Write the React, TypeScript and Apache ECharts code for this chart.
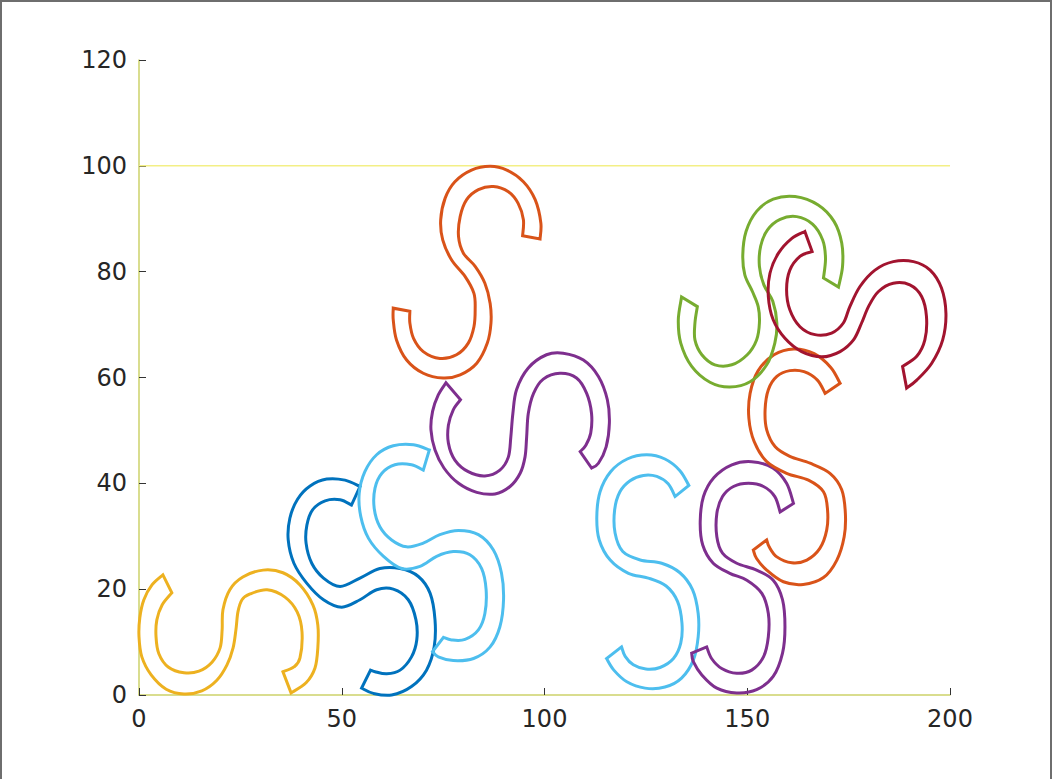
import React, { useEffect, useRef } from "react";
import * as echarts from "echarts";

// ---- tick values ----
const xTicks = [0, 50, 100, 150, 200];
const yTicks = [0, 20, 40, 60, 80, 100, 120];
const refLineY = 100;

// ---- S outlines: two contours per shape (cap to cap), data units ----
const yellowA = [[5.9,22.7],[3.2,20.8],[1.2,18.0],[0.2,14.6],[0,11.0],[0.7,7.2],[3.0,3.8],[6.7,1.1],[11.1,0.2],[15.5,0.8],[19.2,2.8],[21.7,5.7],[23.2,8.9],[23.9,12.3],[24.4,15.7],[25.4,18.0],[27.4,19.1],[31.6,19.9],[36.0,18.5],[39.0,15.7],[40.2,11.9],[39.7,7.0],[38.2,5.3],[35.5,4.4]];
const yellowB = [[8.1,19.3],[5.7,17.0],[4.4,14.2],[4.2,11.0],[4.9,7.8],[7.2,5.3],[11.1,4.2],[14.8,4.5],[18.0,6.2],[20.0,8.9],[20.5,12.3],[20.7,16.1],[22.4,19.9],[25.6,22.3],[30.6,23.6],[35.5,23.1],[39.7,20.8],[42.9,17.0],[44.1,13.2],[44.1,8.9],[43.4,5.1],[41.2,2.3],[37.5,0.4]];

const blueA = [[54.5,39.4],[50.8,40.6],[46.3,40.8],[42.2,39.5],[39.1,37.0],[37.2,33.4],[36.8,29.3],[38.2,24.9],[41.4,21.1],[45.5,18.0],[50.0,16.6],[54.5,18.0],[58.6,19.9],[62.7,20.0],[66.4,18.0],[68.3,14.2],[68.5,10.4],[67.2,7.2],[64.4,4.7],[61.1,4.0],[58.2,4.4],[57.1,4.7]];
const blueB = [[52.4,35.9],[49.6,36.9],[45.9,36.7],[42.8,35.0],[41.4,32.1],[41.2,28.7],[42.6,24.9],[45.5,22.1],[49.6,20.5],[54.5,22.1],[59.4,23.9],[64.4,23.9],[68.9,22.4],[71.8,19.2],[73.0,14.2],[72.8,9.1],[70.9,4.7],[67.2,1.6],[62.3,0.0],[57.8,0.3],[54.9,1.3]];

const cyan1A = [[71.6,46.3],[67.7,47.3],[62.7,47.1],[58.6,45.4],[55.7,42.2],[54.3,38.1],[54.7,33.7],[56.6,29.6],[60.3,26.2],[64.8,23.9],[69.3,24.3],[73.4,26.2],[77.5,27.1],[81.6,26.5],[84.5,23.9],[85.6,19.9],[85.3,15.4],[83.7,12.3],[80.4,10.5],[77.1,10.4],[75.1,10.9]];
const cyan1B = [[70.1,42.5],[67.2,43.5],[63.1,43.5],[59.9,41.9],[58.2,39.1],[58.0,35.3],[59.4,31.8],[62.3,29.3],[66.0,28.0],[70.1,28.7],[74.2,30.3],[78.8,31.1],[83.7,30.3],[87.4,27.4],[89.4,23.0],[89.9,18.0],[89.0,12.9],[86.6,9.1],[82.5,6.9],[77.5,6.5],[73.8,7.2],[72.4,8.2]];

const orange1A = [[98.9,86.2],[99.1,89.2],[97.7,93.6],[94.8,97.0],[90.7,99.2],[86.6,99.9],[82.0,99.2],[77.9,97.0],[75.5,93.9],[74.4,89.8],[74.9,86.0],[77.1,82.2],[80.4,79.1],[82.6,75.9],[82.9,72.8],[82.6,69.6],[81.2,66.5],[78.3,64.3],[74.2,63.6],[70.1,64.9],[67.7,67.4],[66.8,70.3],[66.8,72.5]];
const orange1B = [[94.6,86.8],[94.8,89.8],[93.5,92.9],[91.1,95.1],[87.4,96.1],[83.7,95.5],[80.8,93.6],[79.2,90.4],[78.8,86.6],[80.0,83.5],[82.9,81.0],[85.3,77.8],[86.6,74.0],[86.8,70.3],[85.9,66.5],[83.3,62.7],[79.2,60.5],[75.0,59.9],[70.1,60.8],[66.0,63.3],[63.5,67.1],[62.7,70.9],[62.7,73.1]];

const purple1A = [[75.7,59.0],[73.8,56.7],[72.4,53.6],[72.0,50.1],[73.0,46.3],[75.2,42.9],[78.8,40.0],[83.3,38.3],[87.8,38.0],[91.5,39.4],[94.0,41.9],[95.2,45.0],[95.6,48.8],[96.0,53.2],[97.3,57.0],[99.7,59.7],[103.8,60.8],[107.9,59.9],[110.4,57.0],[111.6,53.2],[111.4,49.5],[110.2,47.2],[108.8,46.0]];
const purple1B = [[79.3,55.8],[77.5,53.9],[76.3,51.0],[76.3,47.6],[77.9,44.4],[81.2,42.2],[85.3,41.4],[89.0,42.5],[91.1,45.0],[91.7,48.8],[92.2,53.2],[93.1,57.7],[96.0,61.8],[100.5,64.3],[104.6,64.6],[109.6,63.3],[113.3,60.2],[115.5,55.8],[116.0,51.4],[115.2,46.9],[113.3,43.8],[111.6,42.9]];

const cyan2A = [[135.6,39.6],[133.4,42.4],[129.7,44.6],[125.2,45.4],[120.4,44.6],[116.3,42.2],[113.7,38.4],[112.9,33.7],[113.5,29.3],[116.2,25.5],[120.7,23.0],[125.6,22.1],[130.0,20.6],[132.8,17.7],[133.9,13.6],[133.6,9.8],[131.8,6.9],[128.5,5.2],[125.0,4.9],[121.9,5.7],[119.9,7.3],[119.0,9.1]];
const cyan2B = [[132.2,37.5],[130.5,39.9],[127.7,41.3],[124.4,41.5],[121.1,40.5],[118.6,38.4],[117.3,35.0],[117.4,30.6],[119.3,27.1],[123.6,25.5],[128.9,24.9],[133.4,23.1],[136.5,19.9],[137.9,15.4],[137.9,11.0],[136.7,6.6],[133.8,3.2],[129.7,1.5],[124.8,1.3],[120.3,2.5],[117.1,4.7],[115.3,6.9]];

const purple2A = [[161.4,36.2],[159.7,40.0],[156.3,42.9],[151.1,44.1],[146.2,43.5],[141.8,41.1],[139.2,37.5],[138.4,32.8],[139.0,28.4],[141.6,24.9],[145.7,23.0],[149.9,21.7],[153.6,19.2],[155.2,15.4],[155.2,11.0],[154.0,7.2],[151.1,4.7],[147.4,4.1],[143.7,5.0],[141.2,6.9],[140.0,9.1]];
const purple2B = [[158.1,34.6],[156.8,37.5],[154.0,39.4],[150.3,40.0],[146.6,39.4],[143.9,37.5],[142.5,34.3],[142.5,29.9],[143.9,26.8],[147.4,24.9],[152.3,23.6],[156.4,21.7],[158.7,18.0],[159.3,12.9],[158.7,7.9],[156.4,3.5],[152.3,1.0],[147.4,0.4],[142.5,1.3],[138.8,3.8],[136.7,6.3],[136.3,7.9]];

const orange2A = [[172.9,58.9],[170.6,61.9],[166.5,64.5],[161.5,65.4],[156.6,64.3],[152.7,61.3],[150.7,57.0],[150.4,52.3],[151.7,47.9],[154.8,44.1],[159.7,41.9],[165.1,40.6],[168.8,38.4],[169.8,35.0],[169.6,31.2],[167.9,27.7],[164.7,25.5],[161.0,25.0],[157.3,26.1],[155.4,28.0],[154.8,29.3]];
const orange2B = [[169.2,57.0],[167.3,59.5],[164.0,61.1],[160.5,61.3],[157.3,60.2],[155.2,57.7],[154.4,53.9],[154.8,50.1],[156.9,46.9],[160.5,45.1],[165.5,43.8],[170.4,41.9],[173.3,38.8],[174.2,34.3],[173.9,29.9],[172.1,25.5],[168.8,22.2],[163.8,20.9],[158.9,21.4],[154.8,23.6],[152.3,25.8],[151.5,27.4]];

const greenA = [[172.5,77.1],[173.5,81.0],[173.3,85.4],[171.4,89.5],[167.5,92.6],[161.8,94.2],[156.4,93.7],[152.3,91.4],[149.7,87.6],[148.9,83.2],[149.4,79.4],[151.3,76.2],[152.7,73.4],[153.0,70.3],[152.3,67.1],[150.0,64.3],[146.2,62.4],[142.0,62.4],[138.8,64.3],[137.1,67.1],[137.1,70.3],[137.7,73.4]];
const greenB = [[168.8,78.8],[169.3,82.5],[168.6,86.0],[166.1,89.0],[162.2,90.4],[158.1,89.9],[155.0,87.9],[153.3,84.8],[153.0,81.0],[154.1,77.5],[156.3,74.4],[157.3,70.3],[156.8,66.5],[154.8,62.4],[150.7,59.2],[145.7,58.2],[140.8,59.1],[136.3,62.1],[133.6,66.5],[133.0,70.9],[133.8,75.2]];

const redA = [[164.2,87.6],[161.0,86.3],[157.7,83.5],[155.6,79.7],[155.2,75.3],[156.4,70.9],[159.3,67.4],[163.4,64.9],[168.4,63.9],[172.9,64.9],[176.2,67.1],[178.2,70.3],[179.9,73.4],[182.3,76.2],[186.0,77.8],[190.1,77.5],[193.0,75.3],[194.2,71.5],[193.8,67.1],[191.8,64.0],[188.3,62.1]];
const redB = [[166.0,83.8],[163.0,82.9],[160.5,80.3],[159.7,76.6],[160.5,72.8],[163.0,69.6],[166.7,68.1],[170.8,68.4],[173.7,70.3],[175.3,73.4],[177.8,77.2],[181.5,80.3],[186.0,81.9],[191.0,81.9],[195.1,80.3],[197.9,76.9],[199.0,72.1],[198.2,67.1],[195.5,62.7],[191.8,59.5],[189.3,58.0]];

const shapeColors = ["#EDB120", "#0072BD", "#4DBEEE", "#D95319", "#7E2F8E", "#4DBEEE", "#7E2F8E", "#D95319", "#77AC30", "#A2142F"];
const shapeA = [yellowA, blueA, cyan1A, orange1A, purple1A, cyan2A, purple2A, orange2A, greenA, redA];
const shapeB = [yellowB, blueB, cyan1B, orange1B, purple1B, cyan2B, purple2B, orange2B, greenB, redB];

const FONT = "DejaVu Sans";
const TEXT = "#262626";
const AXIS = "#cdd26a";

// smooth curve through screen points (Catmull-Rom as cubic Bezier commands)
function curveThrough(pts: number[][]): string {
  let d = "";
  for (let k = 0; k < pts.length - 1; k++) {
    const p0 = pts[k - 1] || pts[k];
    const p1 = pts[k];
    const p2 = pts[k + 1];
    const p3 = pts[k + 2] || pts[k + 1];
    const c1x = p1[0] + (p2[0] - p0[0]) / 6;
    const c1y = p1[1] + (p2[1] - p0[1]) / 6;
    const c2x = p2[0] - (p3[0] - p1[0]) / 6;
    const c2y = p2[1] - (p3[1] - p1[1]) / 6;
    d += ` C${c1x.toFixed(2)},${c1y.toFixed(2)} ${c2x.toFixed(2)},${c2y.toFixed(2)} ${p2[0].toFixed(2)},${p2[1].toFixed(2)}`;
  }
  return d;
}

export default function App() {
  const ref = useRef<HTMLDivElement>(null);
  useEffect(() => {
    if (!ref.current) return;
    const chart = echarts.init(ref.current, undefined, { renderer: "svg" });
    const series: any[] = [];
    series.push({
      type: "line",
      data: [[xTicks[0], refLineY], [xTicks[xTicks.length - 1], refLineY]],
      symbol: "none",
      silent: true,
      lineStyle: { color: "#f3ef86", width: 1.5 },
      z: 1,
    });
    shapeA.forEach((a, i) => {
      const b = shapeB[i];
      const color = shapeColors[i];
      series.push({
        type: "custom",
        coordinateSystem: "cartesian2d",
        data: [a[0]],
        silent: true,
        clip: false,
        z: 3 + i,
        renderItem: (_params: any, api: any) => {
          const pa = a.map((p) => api.coord(p));
          const pb = b.map((p) => api.coord(p)).reverse();
          let d = `M${pa[0][0].toFixed(2)},${pa[0][1].toFixed(2)}` + curveThrough(pa);
          d += ` L${pb[0][0].toFixed(2)},${pb[0][1].toFixed(2)}` + curveThrough(pb) + " Z";
          return {
            type: "path",
            shape: { pathData: d },
            style: { fill: "none", stroke: color, lineWidth: 3, lineJoin: "miter" },
          };
        },
      });
    });
    const axisCommon = {
      type: "value",
      splitLine: { show: false },
      axisLine: { show: true, onZero: false, lineStyle: { color: AXIS, width: 1.5 } },
      axisTick: { show: true, inside: true, length: 7, lineStyle: { color: "#333", width: 1 } },
      axisLabel: { color: TEXT, fontSize: 24, fontFamily: FONT },
    };
    chart.setOption({
      animation: false,
      backgroundColor: "#ffffff",
      grid: { left: 139, right: 107, top: 60, bottom: 84, containLabel: false },
      xAxis: { ...axisCommon, min: xTicks[0], max: xTicks[xTicks.length - 1], interval: 50, axisLabel: { ...axisCommon.axisLabel, margin: 12 } },
      yAxis: { ...axisCommon, min: yTicks[0], max: yTicks[yTicks.length - 1], interval: 20, axisLabel: { ...axisCommon.axisLabel, margin: 12 } },
      graphic: [
        { type: "rect", shape: { x: 1, y: 1, width: 1050, height: 800 }, style: { fill: "none", stroke: "#6e6e6e", lineWidth: 2 }, silent: true },
      ],
      series,
    });
    return () => chart.dispose();
  }, []);
  return (
    <div
      ref={ref}
      style={{ position: "fixed", left: 0, top: 0, width: 1057, height: 779, background: "#fff", overflow: "hidden" }}
    />
  );
}
